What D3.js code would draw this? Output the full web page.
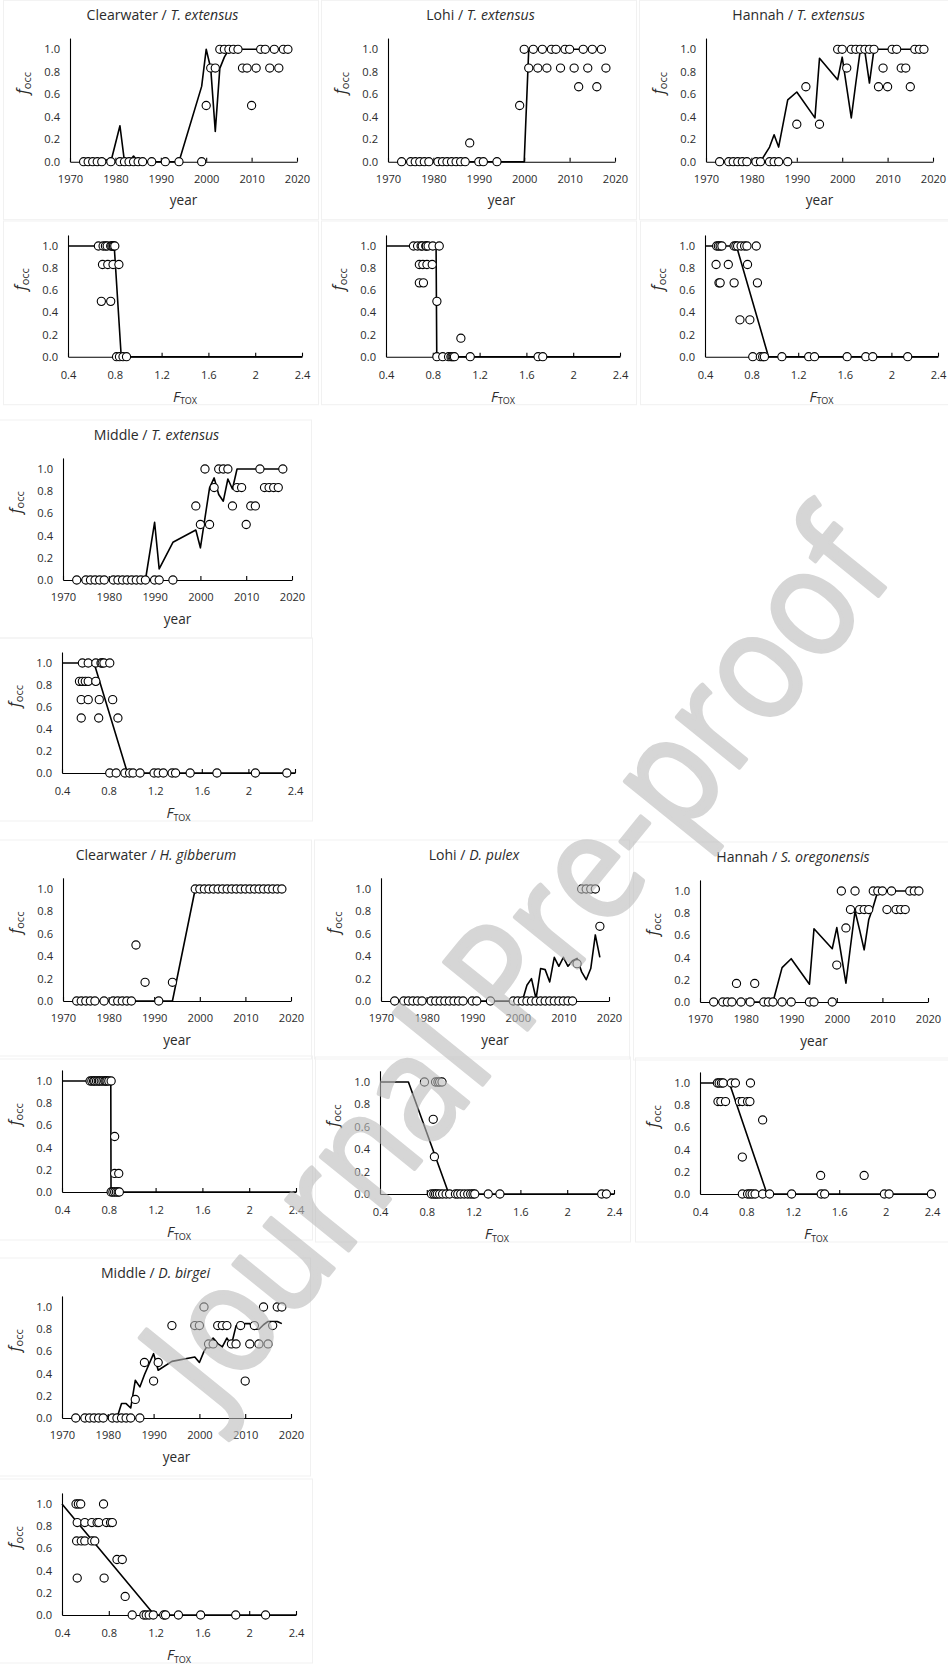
<!DOCTYPE html>
<html>
<head>
<meta charset="utf-8">
<script src="https://cdn.jsdelivr.net/npm/d3@7"></script>
<style>
  html, body { margin: 0; padding: 0; background: #fff; }
  svg { display: block; }
</style>
</head>
<body>
<svg id="fig" width="948" height="1666"></svg>
<script>
// ---------- shared tick values ----------
const yearTicks = [1970, 1980, 1990, 2000, 2010, 2020];
const ftoxTicks = [0.4, 0.8, 1.2, 1.6, 2, 2.4];
const occTicks  = [0, 0.2, 0.4, 0.6, 0.8, 1.0];

// ---------- Clearwater / T. extensus ----------
const cwTexYears = [1973,1974,1975,1976,1977,1979,1981,1982,1983,1984,1985,1986,1988,1991,1994,1999,
                    2000,2001,2002,2003,2004,2005,2006,2007,2008,2009,2010,2011,2012,2013,2014,2015,2016,2017,2018];
const cwTexOcc   = [0,0,0,0,0,0,0,0,0,0,0,0,0,0,0,0,
                    0.5,0.833,0.833,1,1,1,1,1,0.833,0.833,0.5,0.833,1,1,0.833,1,0.833,1,1];
const cwTexFit   = [0,0,0,0,0.03,0,0.32,0,0,0.05,0,0,0,0,0,0.67,
                    1,0.83,0.27,0.83,0.93,1,1,1,1,1,1,1,1,1,1,1,1,1,1];
const cwTexFtox    = [0.66,0.70,0.72,0.735,0.765,0.775,0.785,0.79,0.80, 0.695,0.74,0.785,0.835, 0.685,0.765, 0.815,0.84,0.87,0.90];
const cwTexFtoxOcc = [1,1,1,1,1,1,1,1,1, 0.833,0.833,0.833,0.833, 0.5,0.5, 0,0,0,0];
const cwTexFtoxFitX = [0.4, 0.795, 0.855, 2.4];
const cwTexFtoxFitY = [1, 1, 0, 0];

// ---------- Lohi / T. extensus ----------
const lhTexYears = [1973,1975,1976,1977,1978,1979,1981,1982,1983,1984,1985,1986,1987,1988,1990,1991,1994,1999,
                    2000,2001,2002,2003,2004,2005,2006,2007,2008,2009,2010,2011,2012,2013,2014,2015,2016,2017,2018];
const lhTexOcc   = [0,0,0,0,0,0,0,0,0,0,0,0,0,0.167,0,0,0,0.5,
                    1,0.833,1,0.833,1,0.833,1,1,0.833,1,1,0.833,0.667,1,0.833,1,0.667,1,0.833];
const lhTexFit   = [0,0,0,0,0,0,0,0,0,0,0,0,0,0,0,0,0,0,
                    0,1,1,1,1,1,1,1,1,1,1,1,1,1,1,1,1,1,1];
const lhTexFtox    = [0.635,0.67,0.70,0.71,0.74,0.745,0.76,0.80,0.855, 0.685,0.715,0.75,0.795, 0.685,0.72, 0.835, 1.04,
                      0.835,0.885,0.935,0.955,0.965,0.975,0.985,1.12,1.70,1.74];
const lhTexFtoxOcc = [1,1,1,1,1,1,1,1,1, 0.833,0.833,0.833,0.833, 0.667,0.667, 0.5, 0.167,
                      0,0,0,0,0,0,0,0,0,0];
const lhTexFtoxFitX = [0.4, 0.828, 0.834, 2.4];
const lhTexFtoxFitY = [1, 1, 0, 0];

// ---------- Hannah / T. extensus ----------
const hnTexYears = [1973,1975,1976,1977,1978,1979,1981,1982,1984,1985,1986,1988,1990,1992,1995,
                    1999,2000,2001,2002,2003,2004,2005,2006,2007,2008,2009,2010,2011,2012,2013,2014,2015,2016,2017,2018];
const hnTexOcc   = [0,0,0,0,0,0,0,0,0,0,0,0,0.333,0.667,0.333,
                    1,1,0.833,1,1,1,1,1,1,0.667,0.833,0.667,1,1,0.833,0.833,0.667,1,1,1];
const hnTexFitYears = [1973,1975,1976,1977,1978,1979,1981,1982,1984,1985,1986,1988,1990,1994,1995,
                       1999,2000,2001,2002,2003,2004,2005,2006,2007,2008,2009,2010,2011,2012,2013,2014,2015,2016,2017,2018];
const hnTexFit   = [0,0,0,0,0,0,0,0,0.13,0.24,0.13,0.55,0.62,0.39,0.92,
                    0.73,0.93,0.66,0.39,0.70,1,0.98,0.70,1,1,1,1,1,1,1,1,1,1,1,1];
const hnTexFtox    = [0.50,0.515,0.53,0.545,0.65,0.665,0.68,0.71,0.74,0.76,0.84, 0.495,0.60,0.765, 0.52,0.53,0.65,0.85, 0.70,0.785,
                      0.81,0.875,0.895,0.91,1.06,1.29,1.34,1.62,1.78,1.84,2.14];
const hnTexFtoxOcc = [1,1,1,1,1,1,1,1,1,1,1, 0.833,0.833,0.833, 0.667,0.667,0.667,0.667, 0.333,0.333,
                      0,0,0,0,0,0,0,0,0,0,0];
const hnTexFtoxFitX = [0.4, 0.67, 0.945, 2.4];
const hnTexFtoxFitY = [1, 1, 0, 0];

// ---------- Middle / T. extensus ----------
const mdTexYears = [1973,1975,1976,1977,1978,1979,1981,1982,1983,1984,1985,1986,1987,1988,1990,1991,1994,
                    1999,2000,2001,2002,2003,2004,2005,2006,2007,2008,2009,2010,2011,2012,2013,2014,2015,2016,2017,2018];
const mdTexOcc   = [0,0,0,0,0,0,0,0,0,0,0,0,0,0,0,0,0,
                    0.667,0.5,1,0.5,0.833,1,1,1,0.667,0.833,0.833,0.5,0.667,0.667,1,0.833,0.833,0.833,0.833,1];
const mdTexFit   = [0,0,0,0,0,0,0,0,0,0,0,0,0,0,0.52,0.10,0.34,
                    0.45,0.29,0.56,0.83,0.92,0.77,0.71,0.91,0.82,1,1,1,1,1,1,1,1,1,1,1];
const mdTexFtox    = [0.575,0.625,0.69,0.735,0.745,0.76,0.81, 0.55,0.575,0.60,0.625,0.69, 0.565,0.625,0.72,0.835, 0.565,0.715,0.88,
                      0.81,0.865,0.94,0.98,1.01,1.07,1.19,1.225,1.27,1.345,1.375,1.50,1.73,2.06,2.33];
const mdTexFtoxOcc = [1,1,1,1,1,1,1, 0.833,0.833,0.833,0.833,0.833, 0.667,0.667,0.667,0.667, 0.5,0.5,0.5,
                      0,0,0,0,0,0,0,0,0,0,0,0,0,0,0];
const mdTexFtoxFitX = [0.4, 0.675, 0.962, 2.4];
const mdTexFtoxFitY = [1, 1, 0, 0];

// ---------- Clearwater / H. gibberum ----------
const cwHgiYears = [1973,1974,1975,1976,1977,1979,1981,1982,1983,1984,1985,1986,1988,1991,1994,
                    1999,2000,2001,2002,2003,2004,2005,2006,2007,2008,2009,2010,2011,2012,2013,2014,2015,2016,2017,2018];
const cwHgiOcc   = [0,0,0,0,0,0,0,0,0,0,0,0.5,0.167,0,0.167,
                    1,1,1,1,1,1,1,1,1,1,1,1,1,1,1,1,1,1,1,1];
const cwHgiFit   = [0,0,0,0,0,0,0,0,0,0,0,0,0,0,0,
                    1,1,1,1,1,1,1,1,1,1,1,1,1,1,1,1,1,1,1,1];
const cwHgiFtox    = [0.64,0.655,0.67,0.68,0.695,0.71,0.72,0.735,0.75,0.765,0.775,0.785,0.80,0.82, 0.85, 0.85,0.885,
                      0.82,0.835,0.85,0.865,0.88,0.89];
const cwHgiFtoxOcc = [1,1,1,1,1,1,1,1,1,1,1,1,1,1, 0.5, 0.167,0.167,
                      0,0,0,0,0,0];
const cwHgiFtoxFitX = [0.4, 0.817, 0.819, 2.4];
const cwHgiFtoxFitY = [1, 1, 0, 0];

// ---------- Lohi / D. pulex ----------
const lhDpuYears = [1973,1975,1976,1977,1978,1979,1981,1982,1983,1984,1985,1986,1987,1988,1990,1991,1994,
                    1999,2000,2001,2002,2003,2004,2005,2006,2007,2008,2009,2010,2011,2012,2013,2014,2015,2016,2017,2018];
const lhDpuOcc   = [0,0,0,0,0,0,0,0,0,0,0,0,0,0,0,0,0,
                    0,0,0,0,0,0,0,0,0,0,0,0,0,0,0.333,1,1,1,1,0.667];
const lhDpuFit   = [0,0,0,0,0,0,0,0,0,0,0,0,0,0,0,0,0,
                    0,0,0,0.14,0.20,0.02,0.29,0.28,0.17,0.39,0.31,0.39,0.31,0.36,0.38,0.26,0.19,0.29,0.59,0.39];
const lhDpuFtox    = [0.78,0.875,0.895,0.91,0.93, 0.855, 0.865,
                      0.84,0.86,0.875,0.89,0.91,0.935,0.965,0.995,1.045,1.065,1.09,1.12,1.15,1.175,1.195,1.21,1.325,1.425,2.295,2.335];
const lhDpuFtoxOcc = [1,1,1,1,1, 0.667, 0.333,
                      0,0,0,0,0,0,0,0,0,0,0,0,0,0,0,0,0,0,0,0];
const lhDpuFtoxFitX = [0.4, 0.643, 0.989, 2.4];
const lhDpuFtoxFitY = [1, 1, 0, 0];

// ---------- Hannah / S. oregonensis ----------
const hnSorYears = [1973,1975,1976,1977,1978,1979,1981,1982,1984,1985,1986,1988,1990,1994,1995,
                    1999,2000,2001,2002,2003,2004,2005,2006,2007,2008,2009,2010,2011,2012,2013,2014,2015,2016,2017,2018];
const hnSorOcc   = [0,0,0,0,0.167,0,0,0.167,0,0,0,0,0,0,0,
                    0,0.333,1,0.667,0.833,1,0.833,0.833,0.833,1,1,1,0.833,1,0.833,0.833,0.833,1,1,1];
const hnSorFit   = [0,0,0,0,0,0,0,0,0,0,0,0.31,0.39,0.16,0.66,
                    0.48,0.67,0.42,0.17,0.50,0.82,0.65,0.47,0.74,0.86,1,1,1,1,1,1,1,1,1,1];
const hnSorFtox    = [0.55,0.565,0.585,0.60,0.67,0.705,0.835, 0.555,0.58,0.62,0.74,0.765,0.81,0.83, 0.94, 0.765, 1.44,1.815,
                      0.765,0.81,0.83,0.85,0.875,0.94,1.00,1.19,1.445,1.475,1.99,2.03,2.395];
const hnSorFtoxOcc = [1,1,1,1,1,1,1, 0.833,0.833,0.833,0.833,0.833,0.833,0.833, 0.667, 0.333, 0.167,0.167,
                      0,0,0,0,0,0,0,0,0,0,0,0,0];
const hnSorFtoxFitX = [0.4, 0.653, 0.978, 2.4];
const hnSorFtoxFitY = [1, 1, 0, 0];

// ---------- Middle / D. birgei ----------
const mdDbiYears = [1973,1975,1976,1977,1978,1979,1981,1982,1983,1984,1985,1986,1987,1988,1990,1991,1994,
                    1999,2000,2001,2002,2003,2004,2005,2006,2007,2008,2009,2010,2011,2012,2013,2014,2015,2016,2017,2018];
const mdDbiOcc   = [0,0,0,0,0,0,0,0,0,0,0,0.167,0,0.5,0.333,0.5,0.833,
                    0.833,0.833,1,0.667,0.667,0.833,0.833,0.833,0.667,0.667,0.833,0.333,0.667,0.833,0.667,1,0.667,0.833,1,1];
const mdDbiFit   = [0,0,0,0,0,0.03,0,0,0.13,0.13,0.09,0.34,0.28,0.39,0.58,0.43,0.51,
                    0.55,0.50,0.60,0.67,0.72,0.67,0.64,0.72,0.66,0.83,0.84,0.85,0.85,0.80,0.80,0.84,0.87,0.87,0.87,0.85];
const mdDbiFtox    = [0.52,0.54,0.56,0.755, 0.53,0.595,0.655,0.70,0.715,0.78,0.815,0.83, 0.525,0.565,0.595,0.655,0.68,
                      0.87,0.915, 0.53,0.76, 0.94, 1.0,1.10,1.12,1.145,1.18,1.27,1.285,1.395,1.585,1.885,2.14];
const mdDbiFtoxOcc = [1,1,1,1, 0.833,0.833,0.833,0.833,0.833,0.833,0.833,0.833, 0.667,0.667,0.667,0.667,0.667,
                      0.5,0.5, 0.333,0.333, 0.167, 0,0,0,0,0,0,0,0,0,0,0];
const mdDbiFtoxFitX = [0.4, 1.19, 2.4];
const mdDbiFtoxFitY = [1, 0, 0];

// ---------- page layout: one entry per chart (pixel frame of the plot area) ----------
// x0/x1: horizontal extent of the x axis; y0: pixel of f_occ = 0; y1: pixel of f_occ = 1
const charts = [
  { kind: "year", lake: "Clearwater", taxon: "T. extensus", x0: 70,  x1: 297, y0: 161.7, y1: 49.3,
    px: cwTexYears, py: cwTexOcc, lx: cwTexYears, ly: cwTexFit },
  { kind: "year", lake: "Lohi",       taxon: "T. extensus", x0: 388, x1: 615, y0: 161.7, y1: 49.3,
    px: lhTexYears, py: lhTexOcc, lx: lhTexYears, ly: lhTexFit },
  { kind: "year", lake: "Hannah",     taxon: "T. extensus", x0: 706, x1: 933, y0: 161.7, y1: 49.3,
    px: hnTexYears, py: hnTexOcc, lx: hnTexFitYears, ly: hnTexFit },
  { kind: "ftox", x0: 68,  x1: 302, y0: 356.7, y1: 246,
    px: cwTexFtox, py: cwTexFtoxOcc, lx: cwTexFtoxFitX, ly: cwTexFtoxFitY },
  { kind: "ftox", x0: 386, x1: 620, y0: 356.7, y1: 246,
    px: lhTexFtox, py: lhTexFtoxOcc, lx: lhTexFtoxFitX, ly: lhTexFtoxFitY },
  { kind: "ftox", x0: 705, x1: 938, y0: 356.7, y1: 246,
    px: hnTexFtox, py: hnTexFtoxOcc, lx: hnTexFtoxFitX, ly: hnTexFtoxFitY },

  { kind: "year", lake: "Middle", taxon: "T. extensus", x0: 63, x1: 292, y0: 580, y1: 469,
    px: mdTexYears, py: mdTexOcc, lx: mdTexYears, ly: mdTexFit },
  { kind: "ftox", x0: 62, x1: 295, y0: 773, y1: 663,
    px: mdTexFtox, py: mdTexFtoxOcc, lx: mdTexFtoxFitX, ly: mdTexFtoxFitY },

  { kind: "year", lake: "Clearwater", taxon: "H. gibberum",    x0: 63,  x1: 291, y0: 1001, y1: 889,
    px: cwHgiYears, py: cwHgiOcc, lx: cwHgiYears, ly: cwHgiFit },
  { kind: "year", lake: "Lohi",       taxon: "D. pulex",       x0: 381, x1: 609, y0: 1001, y1: 889,
    px: lhDpuYears, py: lhDpuOcc, lx: lhDpuYears, ly: lhDpuFit },
  { kind: "year", lake: "Hannah",     taxon: "S. oregonensis", x0: 700, x1: 928, y0: 1002, y1: 891,
    px: hnSorYears, py: hnSorOcc, lx: hnSorYears, ly: hnSorFit },
  { kind: "ftox", x0: 62,  x1: 296, y0: 1192, y1: 1081,
    px: cwHgiFtox, py: cwHgiFtoxOcc, lx: cwHgiFtoxFitX, ly: cwHgiFtoxFitY },
  { kind: "ftox", x0: 380, x1: 614, y0: 1194, y1: 1082,
    px: lhDpuFtox, py: lhDpuFtoxOcc, lx: lhDpuFtoxFitX, ly: lhDpuFtoxFitY },
  { kind: "ftox", x0: 700, x1: 932, y0: 1194, y1: 1083,
    px: hnSorFtox, py: hnSorFtoxOcc, lx: hnSorFtoxFitX, ly: hnSorFtoxFitY },

  { kind: "year", lake: "Middle", taxon: "D. birgei", x0: 62, x1: 291, y0: 1418, y1: 1307,
    px: mdDbiYears, py: mdDbiOcc, lx: mdDbiYears, ly: mdDbiFit },
  { kind: "ftox", x0: 62, x1: 296, y0: 1615, y1: 1504,
    px: mdDbiFtox, py: mdDbiFtoxOcc, lx: mdDbiFtoxFitX, ly: mdDbiFtoxFitY }
];

const FONT = "'Open Sans', Lato, 'DejaVu Sans', sans-serif";
const TEXT = "#2b2b2b";
const svg = d3.select("#fig").attr("font-family", FONT);

// pick a font size that gives a run of text the wanted width
function sizeFor(parts, wanted) {
  const probe = svg.append("text").attr("font-size", 100);
  parts.forEach(([s, it]) => probe.append("tspan").attr("font-style", it ? "italic" : "normal").text(s));
  const w = probe.node().getComputedTextLength();
  probe.remove();
  return 100 * wanted / w;
}
const tickSize  = sizeFor([["2020", false]], 25.5);
const titleSize = sizeFor([["Clearwater / ", false], ["T. extensus", true]], 152);
const yearSize  = sizeFor([["year", false]], 27.5);

// faint chart-area frames
const frames = svg.append("g");
// plot content
const plots = svg.append("g");

charts.forEach(c => {
  const isYear = c.kind === "year";
  const top11 = c.y0 - 1.1 * (c.y0 - c.y1);

  frames.append("rect")
    .attr("x", c.x0 - (isYear ? 67 : 65) + 0.5)
    .attr("y", isYear ? c.y1 - 49 : c.y1 - 25)
    .attr("width", 315)
    .attr("height", isYear ? (c.y0 + 58) - (c.y1 - 49) : (c.y0 + 48) - (c.y1 - 25))
    .attr("fill", "none")
    .attr("stroke", "#f1f1f1")
    .attr("stroke-width", 1);

  const x = d3.scaleLinear()
    .domain(isYear ? [1970, 2020] : [0.4, 2.4])
    .range([c.x0, c.x1]);
  const y = d3.scaleLinear()
    .domain([0, 1.1])
    .range([c.y0, top11]);

  const g = plots.append("g");

  // x axis (ticks point inward)
  const xAxis = d3.axisBottom(x)
    .tickValues(isYear ? yearTicks : ftoxTicks)
    .tickFormat(isYear ? d3.format("d") : (d => String(d)))
    .tickSizeInner(-4)
    .tickSizeOuter(0)
    .tickPadding(isYear ? 13 : 14);
  const gx = g.append("g")
    .attr("transform", `translate(0,${y(0)})`)
    .call(xAxis);

  // y axis
  const yAxis = d3.axisLeft(y)
    .tickValues(occTicks)
    .tickFormat(d3.format(".1f"))
    .tickSize(0)
    .tickPadding(10);
  const gy = g.append("g")
    .attr("transform", `translate(${c.x0},0)`)
    .call(yAxis);

  [gx, gy].forEach(a => {
    a.attr("font-family", FONT).attr("font-size", tickSize);
    a.selectAll("path, line").attr("stroke", "#000").attr("stroke-width", 1.1);
    a.selectAll("text").attr("fill", TEXT);
  });
  gx.selectAll(".tick text").attr("dy", "0.71em");

  // fitted occurrence curve
  const fitPts = c.lx.map((v, i) => [v, c.ly[i]]);
  g.append("path")
    .datum(fitPts)
    .attr("fill", "none")
    .attr("stroke", "#000")
    .attr("stroke-width", 1.6)
    .attr("stroke-linejoin", "round")
    .attr("d", d3.line().x(d => x(d[0])).y(d => y(d[1])));

  // observed occurrence
  const obs = c.px.map((v, i) => [v, c.py[i]]);
  g.append("g").selectAll("circle")
    .data(obs)
    .join("circle")
    .attr("cx", d => x(d[0]))
    .attr("cy", d => y(d[1]))
    .attr("r", 4.1)
    .attr("fill", "#fff")
    .attr("stroke", "#000")
    .attr("stroke-width", 1.1);

  // y axis title: f_occ
  const yl = g.append("text")
    .attr("transform", `translate(${c.x0 - 42},${y(0.7)}) rotate(-90)`)
    .attr("text-anchor", "middle")
    .attr("fill", TEXT);
  yl.append("tspan").attr("font-style", "italic").attr("font-size", 15.5).text("f");
  yl.append("tspan").attr("font-size", 11).attr("dy", 3).text("occ");

  // x axis title
  if (isYear) {
    g.append("text")
      .attr("x", (c.x0 + c.x1) / 2)
      .attr("y", c.y0 + 39)
      .attr("dy", "0.35em")
      .attr("text-anchor", "middle")
      .attr("font-size", yearSize)
      .attr("fill", TEXT)
      .text("year");

    const t = g.append("text")
      .attr("x", (c.x0 + c.x1) / 2 - 21)
      .attr("y", c.y1 - 34)
      .attr("dy", "0.35em")
      .attr("text-anchor", "middle")
      .attr("font-size", titleSize)
      .attr("fill", TEXT);
    t.append("tspan").text(c.lake + " / ");
    t.append("tspan").attr("font-style", "italic").text(c.taxon);
  } else {
    const xl = g.append("text")
      .attr("x", (c.x0 + c.x1) / 2)
      .attr("y", c.y0 + 39.5)
      .attr("dy", "0.35em")
      .attr("text-anchor", "middle")
      .attr("fill", TEXT);
    xl.append("tspan").attr("font-style", "italic").attr("font-size", 14.5).text("F");
    xl.append("tspan").attr("font-size", 9).attr("dy", 2.5).text("TOX");
  }
});

// diagonal "Journal Pre-proof" stamp across the page
const stampG = svg.append("g").attr("opacity", 0.6);
const stamp = stampG.append("text")
  .attr("text-anchor", "middle")
  .attr("dominant-baseline", "central")
  .attr("font-family", FONT)
  .attr("font-size", 100)
  .attr("fill", "#bbbbbb")
  .attr("stroke", "#bbbbbb")
  .attr("stroke-width", 4)
  .attr("stroke-linejoin", "round")
  .text("Journal Pre-proof");
const len100 = stamp.node().getComputedTextLength();
const squeeze = 0.9;
stamp.attr("font-size", 100 * 1085 / (len100 * squeeze))
  .attr("transform", `translate(511,957) rotate(-51) scale(${squeeze},1)`);
</script>
</body>
</html>
